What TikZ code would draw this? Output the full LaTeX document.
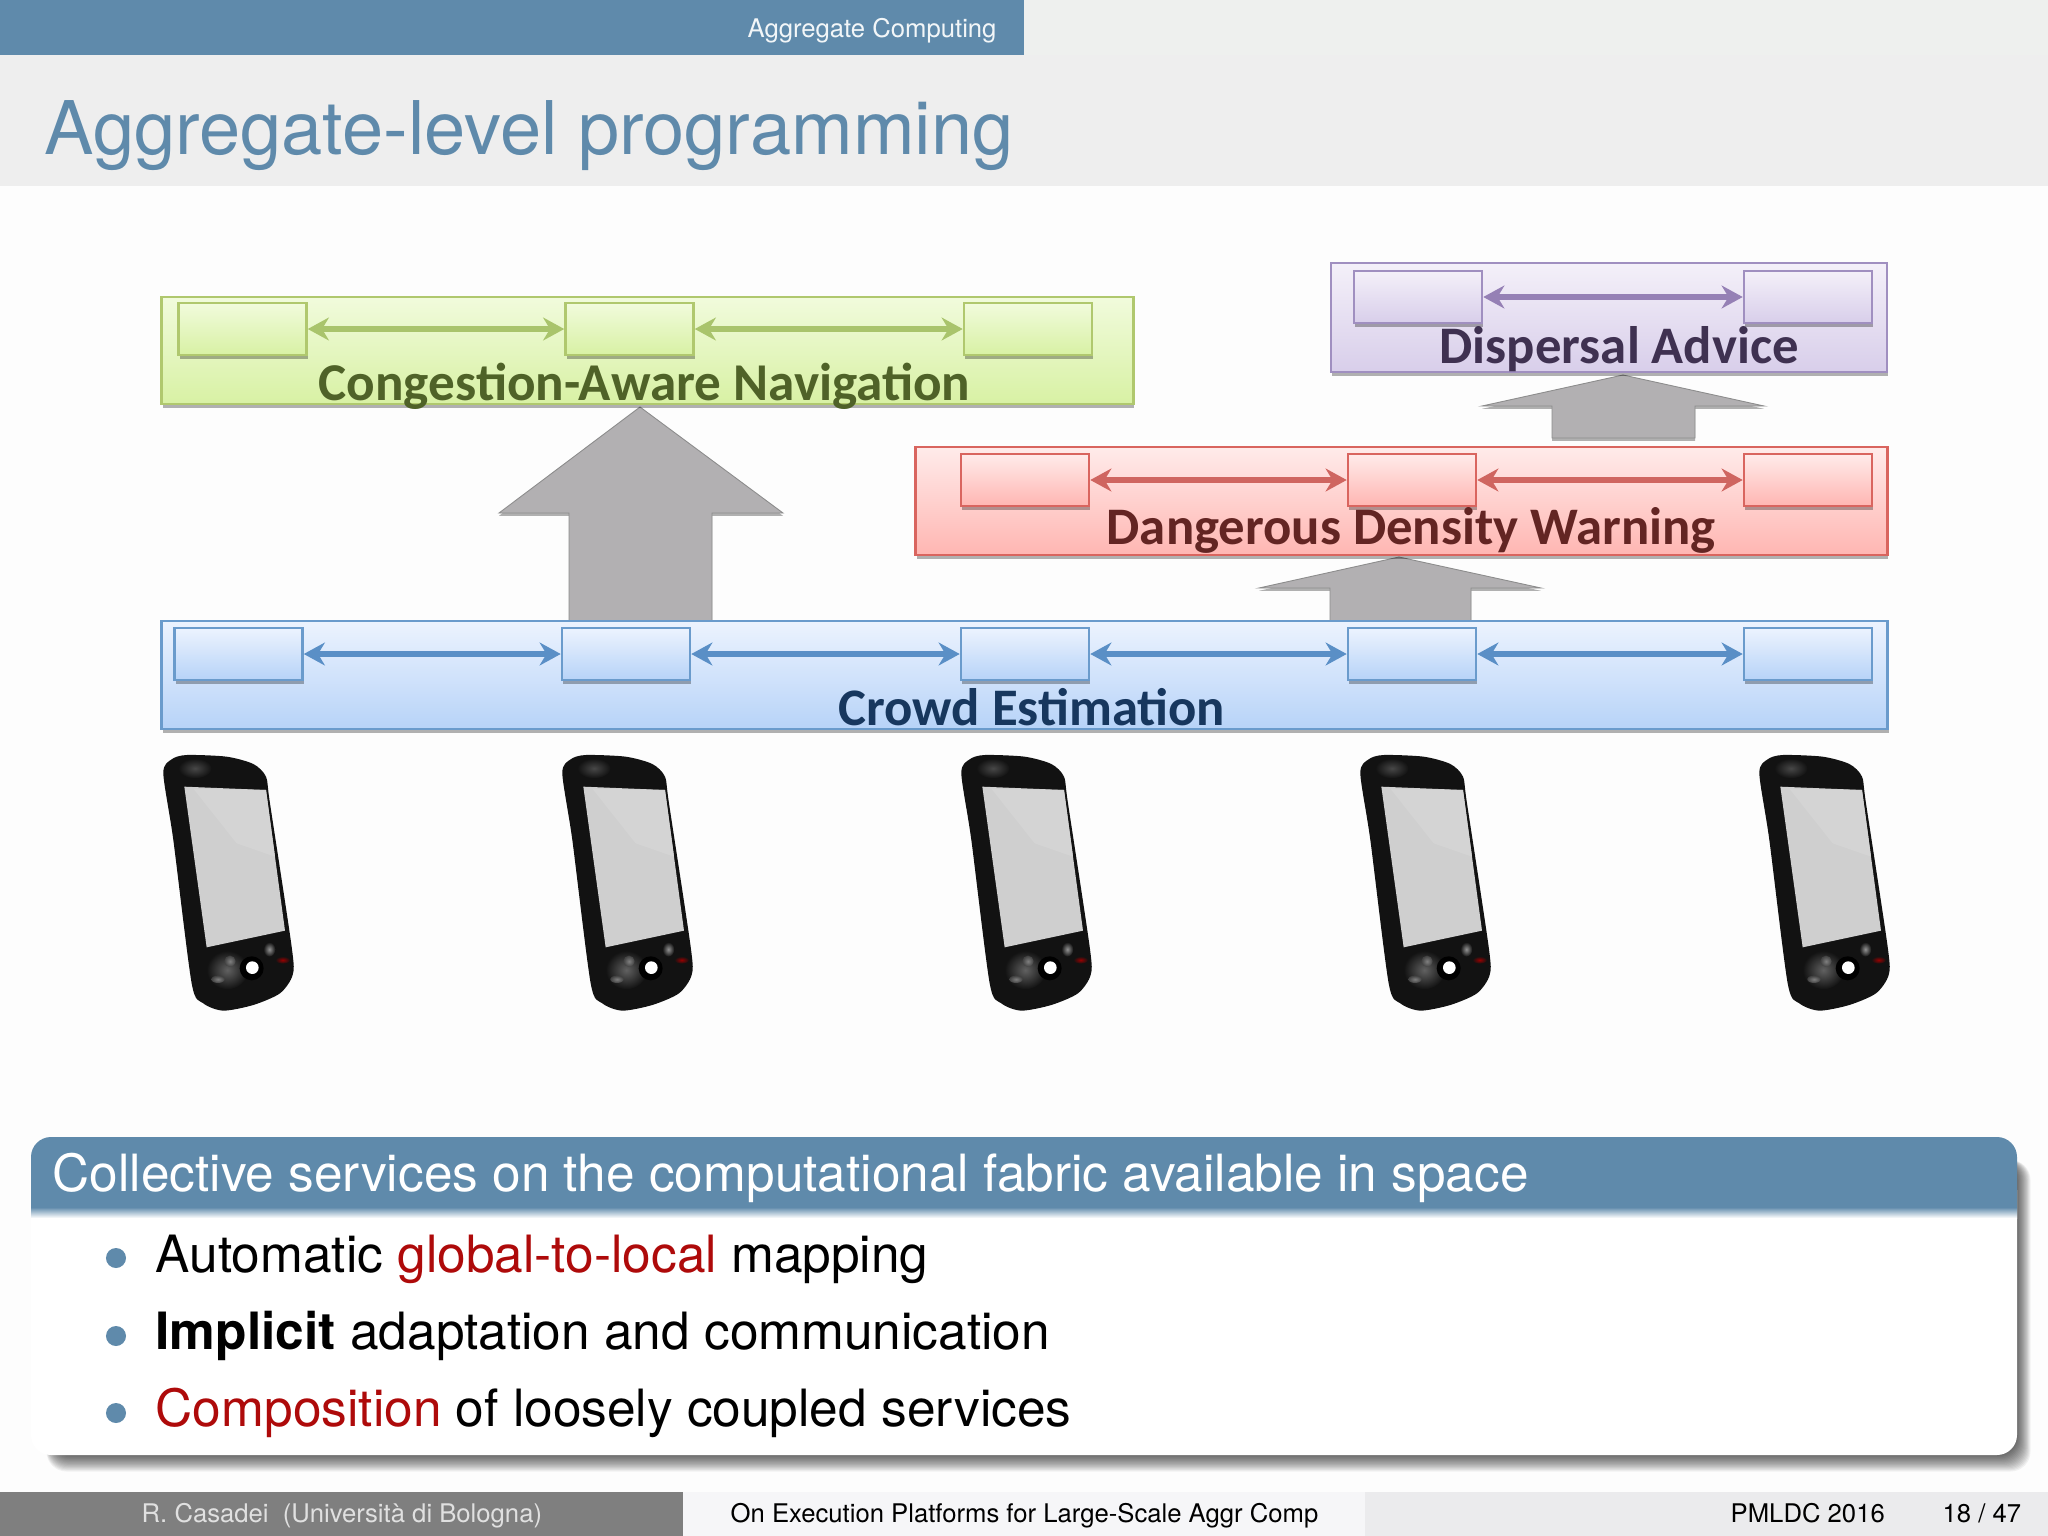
\documentclass[tikz,border=0pt]{standalone}
\usepackage{fontspec}
\setmainfont{TeX Gyre Heros}
\newfontfamily\calibrifont{Carlito}
\usetikzlibrary{arrows.meta,shadows}
\definecolor{slideblue}{HTML}{5F8AAB}
\definecolor{pagebg}{HTML}{FDFDFD}
\definecolor{titlebg}{HTML}{EEEEEE}
\definecolor{topbg}{HTML}{EEF0EE}
\definecolor{alertred}{HTML}{AE0A0A}
\definecolor{footgray}{HTML}{7F7F7F}
\definecolor{footmid}{HTML}{F6F6F8}
\definecolor{footright}{HTML}{EBEBED}
\definecolor{garrow}{HTML}{B2B0B2}
\definecolor{gline}{HTML}{B0C86E}
\definecolor{gtop}{HTML}{F1FBDC}
\definecolor{gbot}{HTML}{D8F1A4}
\definecolor{gtext}{HTML}{4F6228}
\definecolor{garr}{HTML}{A9C46C}
\definecolor{rline}{HTML}{D9655F}
\definecolor{rtop}{HTML}{FFEBEA}
\definecolor{rbot}{HTML}{FFB6B2}
\definecolor{rtext}{HTML}{632523}
\definecolor{rarr}{HTML}{CF6560}
\definecolor{pline}{HTML}{A08FC0}
\definecolor{ptop}{HTML}{F4F0F9}
\definecolor{pbot}{HTML}{D8CEEA}
\definecolor{ptext}{HTML}{3F3151}
\definecolor{parr}{HTML}{9580B5}
\definecolor{bline}{HTML}{6A9BCC}
\definecolor{btop}{HTML}{ECF3FE}
\definecolor{bbot}{HTML}{B7D3F8}
\definecolor{btext}{HTML}{17375E}
\definecolor{barr}{HTML}{5A8FC6}
\tikzset{
  softshadow/.style={drop shadow={shadow xshift=0.3pt,shadow yshift=-1.1pt,opacity=.3,fill=black}},
  band/.style n args={3}{draw=#1,line width=.7pt,top color=#2,bottom color=#3,shade,softshadow,inner sep=0pt},
  tinybox/.style n args={3}{draw=#1,line width=.7pt,top color=#2,bottom color=#3,shade,softshadow,inner sep=0pt,minimum width=1.28cm,minimum height=.52cm},
  gband/.style={band={gline}{gtop}{gbot}}, gbox/.style={tinybox={gline}{gtop}{gbot}},
  rband/.style={band={rline}{rtop}{rbot}}, rbox/.style={tinybox={rline}{rtop}{rbot}},
  pband/.style={band={pline}{ptop}{pbot}}, pbox/.style={tinybox={pline}{ptop}{pbot}},
  bband/.style={band={bline}{btop}{bbot}}, bbox/.style={tinybox={bline}{btop}{bbot}},
  linkarrow/.style={draw=#1,line width=1.6pt,{Stealth[length=6pt,width=6.5pt,#1]}-{Stealth[length=6pt,width=6.5pt,#1]}},
  bigarrow/.style={fill=garrow,draw=black!45,line width=.25pt,drop shadow={shadow xshift=0pt,shadow yshift=-.8pt,opacity=.3,fill=black}},
  lbl/.style={anchor=base west,inner sep=0pt,font=\calibrifont\bfseries\fontsize{15}{16}\selectfont},
  txt/.style={anchor=base west,inner sep=0pt},
  item/.style={txt,text=black,font=\fontsize{14.62}{16}\selectfont},
  foot/.style={txt,font=\fontsize{7.3}{8}\selectfont},
  dot/.style={circle,fill=slideblue,inner sep=0pt,minimum size=.2cm},
  pics/mobile/.style={code={
    \begin{scope}[scale=.3333]
      \fill[black!93] plot[smooth cycle,tension=.45] coordinates {(70,100) (95,58) (140,45) (260,50) (340,72) (378,110) (390,190) (455,620) (458,705) (420,760) (340,795) (250,812) (190,790) (155,730) (100,300)};
      \shade[inner color=black!72,outer color=black!93] (165,85) circle [x radius=50,y radius=30];
      \shade[inner color=black!62,outer color=black!93] (262,690) circle [x radius=62,y radius=58];
      \fill[black] (335,685) circle [radius=36];
      \fill[white] (337,683) circle [radius=19];
      \shade[inner color=black!42,outer color=black!93] (388,628) circle [x radius=18,y radius=22];
      \shade[inner color=black!50,outer color=black!75] (270,664) circle [radius=17];
      \shade[inner color=black!50,outer color=black!75] (234,718) circle [x radius=20,y radius=11];
      \shade[inner color=red!60!black,outer color=black!93] (428,660) circle [x radius=22,y radius=11];
      \fill[black!19] (133,140) -- (378,150) -- (435,572) -- (200,622) -- cycle;
      \fill[black!17] (160,146) -- (378,150) -- (405,350) -- (290,310) -- cycle;
    \end{scope}
  }}
}
\begin{document}
\begin{tikzpicture}[x=.01cm,y=-.01cm]
\useasboundingbox (0,0) rectangle (2048,1536);
\fill[pagebg] (0,0) rectangle (2048,1536);
% top
\fill[titlebg] (0,55) rectangle (2048,186);
\fill[topbg] (1024,0) rectangle (2048,55);
\fill[slideblue] (0,0) rectangle (1024,55);
\node[txt,text=white!92!slideblue,font=\fontsize{7.3}{8}\selectfont] (section) at (747,37) {Aggregate Computing};
\node[txt,text=slideblue,font=\fontsize{21.05}{24}\selectfont] (title) at (44,154) {Aggregate-level programming};
% big arrows
\draw[bigarrow] (640,407) -- (783,513) -- (712,513) -- (712,621) -- (569,621) -- (569,513) -- (499,513) -- cycle;
\draw[bigarrow] (1623,375) -- (1764,406) -- (1695,406) -- (1695,438) -- (1552,438) -- (1552,406) -- (1482,406) -- cycle;
\draw[bigarrow] (1399,557) -- (1541,588) -- (1471,588) -- (1471,621) -- (1330,621) -- (1330,588) -- (1259,588) -- cycle;
% green
\node[gband,minimum width=9.71cm,minimum height=1.07cm] (gb) at (647.5,350.5) {};
\node[gbox] (g1) at (242.5,329) {};
\node[gbox] (g2) at (629.5,329) {};
\node[gbox] (g3) at (1028,329) {};
\draw[linkarrow=garr] (g1) -- (g2);
\draw[linkarrow=garr] (g2) -- (g3);
\node[lbl,text=gtext,font=\calibrifont\bfseries\fontsize{15.12}{16}\selectfont] (gl) at (318,400) {Congestion-Aware Navigation};
% purple
\node[pband,minimum width=5.56cm,minimum height=1.09cm] (pb) at (1609,317.5) {};
\node[pbox] (p1) at (1418,297) {};
\node[pbox] (p2) at (1808,297) {};
\draw[linkarrow=parr] (p1) -- (p2);
\node[lbl,text=ptext] (pl) at (1439,363) {Dispersal Advice};
% red
\node[rband,minimum width=9.71cm,minimum height=1.08cm] (rb) at (1401.5,501) {};
\node[rbox] (r1) at (1025,480) {};
\node[rbox] (r2) at (1412,480) {};
\node[rbox] (r3) at (1808,480) {};
\draw[linkarrow=rarr] (r1) -- (r2);
\draw[linkarrow=rarr] (r2) -- (r3);
\node[lbl,text=rtext] (rl) at (1106,544) {Dangerous Density Warning};
% blue
\node[bband,minimum width=17.25cm,minimum height=1.08cm] (bb) at (1024.5,675) {};
\node[bbox] (b1) at (238.5,654) {};
\node[bbox] (b2) at (626,654) {};
\node[bbox] (b3) at (1025,654) {};
\node[bbox] (b4) at (1412,654) {};
\node[bbox] (b5) at (1808,654) {};
\draw[linkarrow=barr] (b1) -- (b2);
\draw[linkarrow=barr] (b2) -- (b3);
\draw[linkarrow=barr] (b3) -- (b4);
\draw[linkarrow=barr] (b4) -- (b5);
\node[lbl,text=btext] (bl) at (838,725) {Crowd Estimation};
% phones
\foreach \dx in {0,399,798,1197,1596}
  \pic at (140+\dx,740) {mobile};
% block shadow
\foreach \i in {15,14,...,0}
  \fill[black,opacity=.05,rounded corners=.2cm] (51-.3*\i,1160) rectangle (2017+.9*\i,1455+1.1*\i);
% block
\fill[white,rounded corners=.2cm] (31,1190) -- (31,1455) -- (2017,1455) -- (2017,1190);
\shade[top color=slideblue,bottom color=white] (31,1207) rectangle (2017,1218);
\fill[slideblue,rounded corners=.2cm] (31,1208) -- (31,1137) -- (2017,1137) -- (2017,1208);
\node[txt,text=white,font=\fontsize{14.6}{16}\selectfont] (head) at (52,1191) {Collective services on the computational fabric available in space};
\node[dot] (d1) at (116,1258) {};
\node[dot] (d2) at (116,1336) {};
\node[dot] (d3) at (116,1413) {};
\node[item] (i1) at (155,1272) {Automatic \textcolor{alertred}{global-to-local} mapping};
\node[item] (i2) at (155,1349) {\textbf{Implicit} adaptation and communication};
\node[item] (i3) at (155,1426) {\textcolor{alertred}{Composition} of loosely coupled services};
% footer
\fill[footgray] (0,1492) rectangle (683,1536);
\fill[footmid] (683,1492) rectangle (1365,1536);
\fill[footright] (1365,1492) rectangle (2048,1536);
\node[foot,text=black!12] (f1) at (141,1522) {R. Casadei\ \ (Università di Bologna)};
\node[foot,text=black] (f2) at (730,1522) {On Execution Platforms for Large-Scale Aggr Comp};
\node[foot,text=black] (f3) at (1730,1522) {PMLDC 2016};
\node[foot,text=black] (f4) at (1942,1522) {18 / 47};
\end{tikzpicture}
\end{document}
